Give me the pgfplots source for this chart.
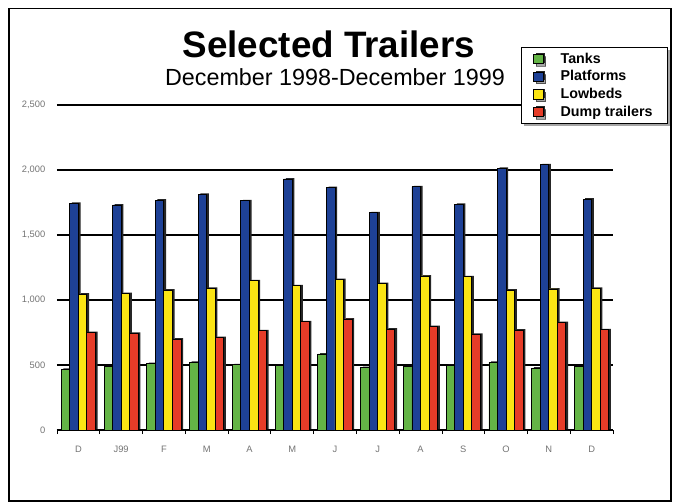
\documentclass[border=0pt]{standalone}
\usepackage{pgfplots}
\pgfplotsset{compat=1.18}
\usepackage{fontspec}
\setmainfont{Liberation Sans}
\usetikzlibrary{shadows}
\definecolor{cgreen}{RGB}{100,180,70}
\definecolor{cblue}{RGB}{30,65,150}
\definecolor{cyellow}{RGB}{250,228,20}
\definecolor{cred}{RGB}{230,60,40}
\pgfplotstableread{
x tanks platforms lowbeds dump
0 469 1744 1046 751
1 487 1731 1051 744
2 513 1769 1077 700
3 521 1815 1092 713
4 503 1764 1149 764
5 495 1931 1110 833
6 585 1867 1159 854
7 482 1672 1128 777
8 487 1872 1185 797
9 497 1738 1179 738
10 521 2015 1077 769
11 477 2041 1085 828
12 487 1777 1092 772
}\datatable
\begin{document}
\begin{tikzpicture}
\begin{axis}[
  name=ax,
  scale only axis,
  width=417pt, height=243.75pt,
  ybar=0pt, bar width=0.2,
  xmin=-0.5, xmax=12.5,
  ymin=0, ymax=2500,
  ytick={0,500,1000,1500,2000,2500},
  ymajorgrids,
  grid style={black, line width=0.9pt},
  axis x line*=bottom,
  axis y line*=left,
  y axis line style={draw=none},
  x axis line style={black, line width=0.8pt},
  major y tick style={draw=none},
  xtick={0,...,12},
  xticklabels={D,J99,F,M,A,M,J,J,A,S,O,N,D},
  major x tick style={draw=none},
  minor xtick={-0.5,0.5,...,12.5},
  minor tick length=3pt,
  minor x tick style={black, line width=0.6pt},
  tick align=outside,
  ticklabel style={font=\fontsize{7}{8}\selectfont, text=black!55},
  /pgf/number format/assume math mode=true,
  /pgf/number format/1000 sep={,},
  yticklabel style={xshift=-1pt},
  xticklabel style={yshift=-4pt},
  clip=false,
  legend style={at={(0.8345,1.178)}, anchor=north west, draw=black, fill=white,
    drop shadow={shadow xshift=2pt, shadow yshift=-2pt, fill=black!70},
    font=\fontsize{10.7}{12}\bfseries\selectfont, row sep=0pt, column sep=11pt,
    inner xsep=9pt, inner ysep=2pt, cells={anchor=west}},
  legend image code/.code={\draw[#1, draw=black, line width=0.5pt] (0pt,-3.5pt) rectangle (7pt,3.5pt);},
  every axis plot/.append style={draw=black, line width=0.7pt,
    preaction={fill=black!85, draw=none, transform canvas={shift={(1.6pt,0.6pt)}}}},
]
\addplot[fill=cgreen] table[x=x, y=tanks] {\datatable};
\addplot[fill=cblue] table[x=x, y=platforms] {\datatable};
\addplot[fill=cyellow] table[x=x, y=lowbeds] {\datatable};
\addplot[fill=cred] table[x=x, y=dump] {\datatable};
\legend{Tanks,Platforms,Lowbeds,Dump trailers}
\node[font=\fontsize{27.6}{30}\bfseries\selectfont, anchor=center] at (rel axis cs:0.489,1.187) {Selected Trailers};
\node[font=\fontsize{17.5}{20}\selectfont, anchor=center] at (rel axis cs:0.50,1.085) {December 1998-December 1999};
\draw[black, line width=0.9pt] (rel axis cs:-0.0863,-0.2185) rectangle (rel axis cs:1.1043,1.298);
\path[use as bounding box] (rel axis cs:-0.1025,-0.2215) rectangle (rel axis cs:1.1079,1.3231);
\end{axis}
\end{tikzpicture}
\end{document}
